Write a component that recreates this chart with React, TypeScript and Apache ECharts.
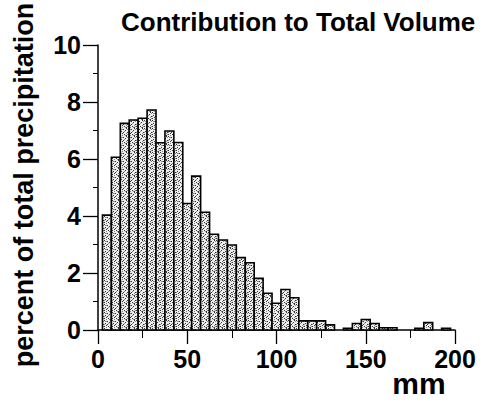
import React, { useEffect, useRef } from "react";
import * as echarts from "echarts";

const binCenters = [5, 10, 15, 20, 25, 30, 35, 40, 45, 50, 55, 60, 65, 70, 75, 80, 85, 90, 95, 100, 105, 110, 115, 120, 125, 130, 135, 140, 145, 150, 155, 160, 165, 170, 175, 180, 185, 190, 195];
const percentValues = [4.03, 6.06, 7.25, 7.37, 7.43, 7.72, 6.57, 6.98, 6.58, 4.44, 5.4, 4.13, 3.36, 3.16, 2.98, 2.54, 2.36, 1.81, 1.29, 0.94, 1.42, 1.13, 0.32, 0.32, 0.32, 0.18, 0, 0.06, 0.23, 0.37, 0.23, 0.08, 0.08, 0, 0, 0.06, 0.26, 0, 0.06];
const binWidth = 5;
const titleText = "Contribution to Total Volume";
const yName = "percent of total precipitation";
const xName = "mm";

const FONT = "'Liberation Sans', Arial, Helvetica, sans-serif";

// fixed stipple dot layout for the bar texture (8x8 tile)
const stippleDark = [[0, 0], [3, 1], [6, 0], [1, 3], [5, 2], [7, 4], [2, 5], [4, 6], [0, 6], [6, 7], [3, 4]];
const stippleMid = [[2, 1], [7, 1], [4, 3], [0, 4], [6, 5], [2, 7], [5, 7], [1, 1], [7, 6]];

function makeStipple(): any {
  const cv = document.createElement("canvas");
  cv.width = 8;
  cv.height = 8;
  const ctx = cv.getContext("2d");
  if (!ctx) return "#c4c4c4";
  ctx.fillStyle = "#eeeeee";
  ctx.fillRect(0, 0, 8, 8);
  ctx.fillStyle = "#333333";
  stippleDark.forEach(([x, y]) => ctx.fillRect(x, y, 1, 1));
  ctx.fillStyle = "#888888";
  stippleMid.forEach(([x, y]) => ctx.fillRect(x, y, 1, 1));
  return { image: cv, repeat: "repeat" };
}

export default function App() {
  const ref = useRef<HTMLDivElement>(null);
  useEffect(() => {
    if (!ref.current) return;
    const chart = echarts.init(ref.current, undefined, { renderer: "svg" });
    const data = binCenters.map((c, i) => [c, percentValues[i]]);
    const fill = makeStipple();
    chart.setOption({
      animation: false,
      backgroundColor: "#ffffff",
      title: {
        text: titleText,
        left: 116,
        top: 4,
        textStyle: { fontFamily: FONT, fontWeight: "bold", fontSize: 26, color: "#000" },
      },
      grid: { left: 98, right: 32, top: 45, bottom: 74 },
      xAxis: {
        type: "value",
        min: 0,
        max: 200,
        interval: 50,
        axisLine: { show: true, lineStyle: { color: "#000", width: 1.5 } },
        axisTick: { show: true, length: 14, lineStyle: { color: "#000", width: 1.3 } },
        minorTick: { show: true, splitNumber: 2, length: 8, lineStyle: { color: "#000", width: 1 } },
        axisLabel: { margin: 16, fontFamily: FONT, fontWeight: "bold", fontSize: 25, color: "#000" },
        splitLine: { show: false },
      },
      yAxis: {
        type: "value",
        min: 0,
        max: 10,
        interval: 2,
        axisLine: { show: true, lineStyle: { color: "#000", width: 1.5 } },
        axisTick: { show: true, length: 15, lineStyle: { color: "#000", width: 1.3 } },
        minorTick: { show: true, splitNumber: 2, length: 5, lineStyle: { color: "#000", width: 1 } },
        axisLabel: { margin: 17, fontFamily: FONT, fontWeight: "bold", fontSize: 25, color: "#000" },
        splitLine: { show: false },
      },
      graphic: [
        {
          type: "text",
          x: 24,
          y: 185,
          rotation: Math.PI / 2,
          style: {
            text: yName,
            fontFamily: FONT,
            fontWeight: "bold",
            fontSize: 27,
            fill: "#000",
            textAlign: "center",
            textVerticalAlign: "middle",
          },
        },
        {
          type: "text",
          x: 419,
          y: 383,
          style: {
            text: xName,
            fontFamily: FONT,
            fontWeight: "bold",
            fontSize: 30,
            fill: "#000",
            textAlign: "center",
            textVerticalAlign: "middle",
          },
        },
      ],
      series: [
        {
          type: "custom",
          data,
          renderItem: (params: any, api: any) => {
            const c = api.value(0);
            const v = api.value(1);
            if (!v) return null;
            const p1 = api.coord([c - binWidth / 2, v]);
            const p2 = api.coord([c + binWidth / 2, 0]);
            return {
              type: "rect",
              shape: { x: p1[0], y: p1[1], width: p2[0] - p1[0], height: p2[1] - p1[1] },
              style: { fill, stroke: "#000", lineWidth: 1.6 },
            };
          },
        },
      ],
    });
    return () => chart.dispose();
  }, []);
  return (
    <div
      ref={ref}
      style={{ position: "fixed", left: 0, top: 0, width: 487, height: 404 }}
    />
  );
}
